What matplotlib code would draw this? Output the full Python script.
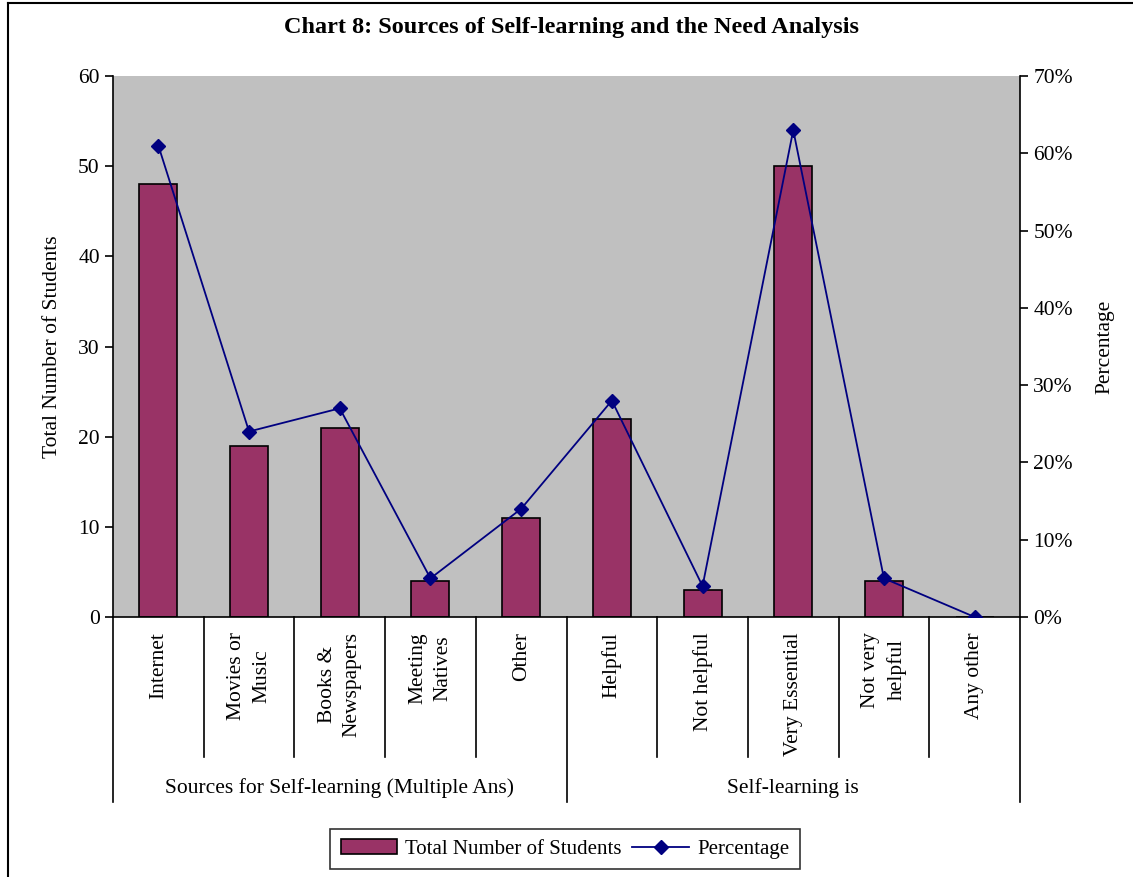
import numpy as np
import matplotlib.pyplot as plt
from matplotlib.lines import Line2D

categories = ["Internet", "Movies or\nMusic", "Books &\nNewspapers", "Meeting\nNatives", "Other",
              "Helpful", "Not helpful", "Very Essential", "Not very\nhelpful", "Any other"]
groups = ["Sources for Self-learning (Multiple Ans)", "Self-learning is"]
group_sizes = [5, 5]
students = [48, 19, 21, 4, 11, 22, 3, 50, 4, 0]
percentage = [61, 24, 27, 5, 14, 28, 4, 63, 5, 0]

plt.rcParams['font.family'] = ['Liberation Serif', 'DejaVu Serif']

W, H = 1133, 877
fig = plt.figure(figsize=(W / 100, H / 100), dpi=100)
ax = fig.add_axes([113 / W, 1 - 617 / H, (1020 - 113) / W, (617 - 76) / H])
ax.set_facecolor('#c0c0c0')

x = np.arange(len(categories))
bars = ax.bar(x, students, width=0.42, color='#993366', edgecolor='black', linewidth=1.2,
              label='Total Number of Students', zorder=2)
ax.set_xlim(-0.5, len(categories) - 0.5)
ax.set_ylim(0, 60)
ax.set_yticks(range(0, 61, 10))
ax.set_ylabel('Total Number of Students', fontsize=15.5, labelpad=12)
ax.tick_params(axis='y', labelsize=15.5, direction='out', length=6, width=1.2)
ax.set_xticks([])

ax2 = ax.twinx()
line, = ax2.plot(x, percentage, color='#000080', marker='D', markersize=7, linewidth=1.3,
                 label='Percentage', zorder=3)
ax2.set_ylim(0, 70)
ax2.set_yticks(range(0, 71, 10))
ax2.set_yticklabels([f"{v}%" for v in range(0, 71, 10)])
ax2.set_ylabel('Percentage', fontsize=15.5, labelpad=16)
ax2.tick_params(axis='y', labelsize=15.5, direction='out', length=6, width=1.2)
ax2.set_xlim(-0.5, len(categories) - 0.5)

for a in (ax, ax2):
    for s in ('top', 'right'):
        a.spines[s].set_visible(False)
    a.spines['left'].set_linewidth(1.2)
    a.spines['right'].set_linewidth(1.2)
    a.spines['bottom'].set_linewidth(1.2)
ax2.spines['right'].set_visible(True)
ax2.spines['left'].set_visible(False)
ax2.spines['bottom'].set_visible(False)

# category labels and divider lines below the axis
trans = ax.get_xaxis_transform()
px = 1 / (617 - 76)
for i, lab in enumerate(categories):
    ax.text(i, -15 * px, lab, rotation=90, ha='center', va='top', fontsize=15.5,
            transform=trans, linespacing=1.45)
inner_bottom = -(757 - 617) * px
outer_bottom = -(802 - 617) * px
edges = [-0.5]
for n in group_sizes:
    edges.append(edges[-1] + n)
for k in range(len(categories) + 1):
    xe = k - 0.5
    yb = outer_bottom if xe in edges else inner_bottom
    ax.add_line(Line2D([xe, xe], [0, yb], transform=trans, color='black', linewidth=1.2,
                       clip_on=False))
for g, name in enumerate(groups):
    mid = (edges[g] + edges[g + 1]) / 2
    ax.text(mid, -(788 - 617) * px, name, ha='center', va='center', fontsize=15.5,
            transform=trans)

fig.text(572 / W, 1 - 28 / H, 'Chart 8: Sources of Self-learning and the Need Analysis',
         ha='center', va='center', fontsize=17.5, fontweight='bold')

leg = fig.legend(handles=[bars, line], loc='center', bbox_to_anchor=(565 / W, 1 - 849 / H),
                 ncol=2, fontsize=15, frameon=True, fancybox=False, edgecolor='black',
                 handlelength=2.7, columnspacing=0.5, handletextpad=0.4, borderpad=0.5)
leg.get_frame().set_linewidth(1.2)

# chart area border (left and top edges visible)
fig.add_artist(Line2D([8 / W, 8 / W], [0, 1 - 3 / H], transform=fig.transFigure, color='black', linewidth=1.5))
fig.add_artist(Line2D([8 / W, 1], [1 - 3 / H, 1 - 3 / H], transform=fig.transFigure, color='black', linewidth=1.5))

fig.savefig('out.png', dpi=100)
